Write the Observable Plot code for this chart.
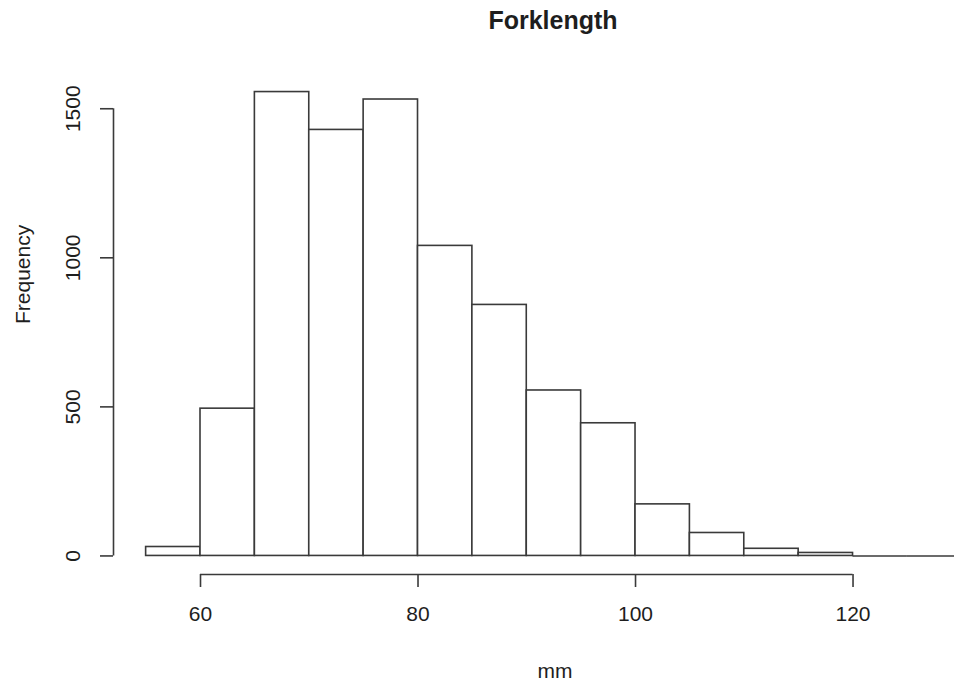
<!DOCTYPE html>
<html>
<head>
<meta charset="utf-8">
<script src="https://cdn.jsdelivr.net/npm/d3@7"></script>
<script src="https://cdn.jsdelivr.net/npm/@observablehq/plot@0.6"></script>
<style>
  html, body { margin: 0; padding: 0; background: #fff; }
  svg { display: block; }
</style>
</head>
<body>
<div id="chart"></div>
<script>
const binStarts = [55, 60, 65, 70, 75, 80, 85, 90, 95, 100, 105, 110, 115, 120, 125];
const binWidth = 5;
const counts = [30, 494, 1556, 1429, 1531, 1040, 842, 555, 445, 173, 77, 24, 10, 0, 0];
const xTicks = [60, 80, 100, 120];
const yTicks = [0, 500, 1000, 1500];
const title = "Forklength";
const xLabel = "mm";
const yLabel = "Frequency";

const bins = binStarts.map((s, i) => ({x1: s, x2: s + binWidth, count: counts[i]}));
const yMax = d3.max(counts);
const xDomain = [52, 129.33];
const yDomain = [-0.04 * yMax, 1.04 * yMax];
const ink = "#3a3a3a";
const txt = "#1e1e1e";
const font = "Liberation Sans, Arial, sans-serif";

const chart = Plot.plot({
  width: 954,
  height: 681,
  marginLeft: 113,
  marginRight: 0,
  marginTop: 73,
  marginBottom: 107,
  style: {fontFamily: font, background: "#fff", color: txt},
  x: {domain: xDomain, axis: null},
  y: {domain: yDomain, axis: null},
  marks: [
    Plot.rectY(bins.filter(d => d.count > 0), {x1: "x1", x2: "x2", y1: 0, y2: "count", fill: "white", stroke: ink, strokeWidth: 1.6, clip: true}),
    Plot.ruleY(bins.filter(d => d.count === 0), {x1: "x1", x2: "x2", y: "count", stroke: ink, strokeWidth: 1.6, clip: true}),
    // x axis
    Plot.ruleY([yDomain[0]], {x1: xTicks[0], x2: xTicks[xTicks.length - 1], stroke: ink, strokeWidth: 1.6}),
    Plot.axisX({ticks: xTicks, tickSize: 13, tickPadding: 19, fontSize: 21, label: null, stroke: ink, strokeWidth: 1.6, fill: txt}),
    // y axis
    Plot.ruleX([xDomain[0]], {y1: yTicks[0], y2: yTicks[yTicks.length - 1], stroke: ink, strokeWidth: 1.6}),
    Plot.axisY({ticks: yTicks, tickSize: 13, tickFormat: () => "", label: null, stroke: ink, strokeWidth: 1.6}),
    Plot.text(yTicks, {x: xDomain[0], y: d => d, text: d => String(d), rotate: -90, dx: -40, fontSize: 21, fill: txt, textAnchor: "middle", lineAnchor: "middle"}),
    // titles
    Plot.text([title], {frameAnchor: "top", dx: 19, dy: -44.5, fontSize: 25, fontWeight: "bold", fill: txt, lineAnchor: "bottom"}),
    Plot.text([xLabel], {frameAnchor: "bottom", dx: 21, dy: 103, fontSize: 21, fill: txt, lineAnchor: "bottom"}),
    Plot.text([yLabel], {frameAnchor: "left", dx: -90, fontSize: 21, fill: txt, rotate: -90, lineAnchor: "middle"})
  ]
});
document.getElementById("chart").appendChild(chart);
</script>
</body>
</html>
